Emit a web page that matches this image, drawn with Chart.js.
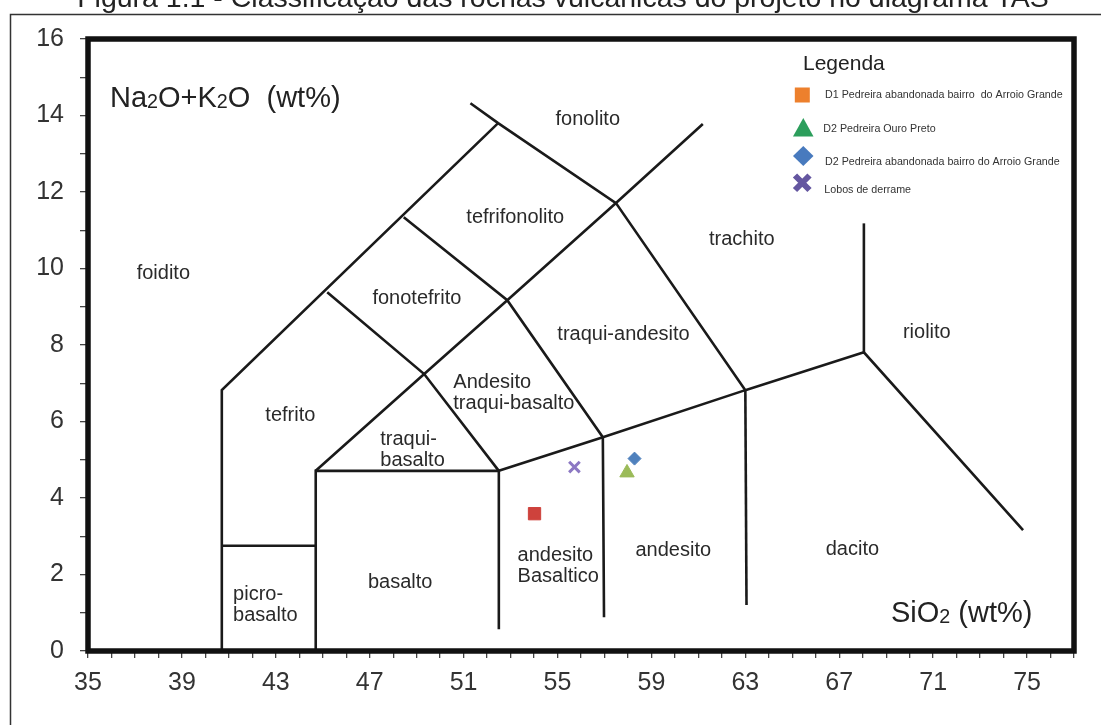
<!DOCTYPE html>
<html><head><meta charset="utf-8">
<script src="https://cdn.jsdelivr.net/npm/chart.js"></script>
<style>html,body{margin:0;padding:0;background:#fff;overflow:hidden}canvas{display:block}</style>
</head><body>
<canvas id="c" width="1101" height="725"></canvas>
<script>
// ---------------- data ----------------
const xTickLabels = [35, 39, 43, 47, 51, 55, 59, 63, 67, 71, 75];
const yTickLabels = [0, 2, 4, 6, 8, 10, 12, 14, 16];

// TAS field boundaries (SiO2, Na2O+K2O)
const lineFoiditeBound      = [[40.7, 0], [40.7, 6.82], [52.47, 13.8]];
const lineUpperBound        = [[51.29, 14.32], [52.47, 13.8], [57.49, 11.71], [63.0, 6.82], [68.05, 7.81], [74.83, 3.16]];
const linePicroTop          = [[40.7, 2.75], [44.7, 2.75]];
const lineBasaltBox         = [[44.7, 0], [44.7, 4.71], [52.5, 4.71], [52.5, 0.57]];
const lineFonotefritoBase   = [[45.19, 9.38], [49.32, 7.24], [52.5, 4.71]];
const lineTrachyRidge       = [[44.7, 4.71], [49.32, 7.24], [52.86, 9.17], [57.49, 11.71], [61.19, 13.78]];
const lineTephriphonoBase   = [[48.45, 11.34], [52.86, 9.17], [56.93, 5.59], [56.98, 0.88]];
const lineAlkalineDivide    = [[52.5, 4.71], [56.93, 5.59], [63.0, 6.82]];
const lineDaciteLeft        = [[63.0, 6.82], [63.05, 1.2]];
const lineRhyoliteLeft      = [[68.05, 7.81], [68.05, 11.18]];
const boundaryLines = [lineFoiditeBound, lineUpperBound, linePicroTop, lineBasaltBox, lineFonotefritoBase,
  lineTrachyRidge, lineTephriphonoBase, lineAlkalineDivide, lineDaciteLeft, lineRhyoliteLeft];

// samples
const sampleD1Arroio   = [[54.02, 3.59]];
const sampleD2Ouro     = [[57.96, 4.66]];
const sampleD2Arroio   = [[58.28, 5.03]];
const sampleLobos      = [[55.72, 4.81]];

const legendNames = [
  'D1 Pedreira abandonada bairro  do Arroio Grande',
  'D2 Pedreira Ouro Preto',
  'D2 Pedreira abandonada bairro do Arroio Grande',
  'Lobos de derrame'
];

// field names and their anchor (SiO2, Na2O+K2O)
const fieldNames  = ['foidito','fonolito','tefrifonolito','trachito','fonotefrito','traqui-andesito','riolito',
  'Andesito','traqui-basalto','tefrito','traqui-','basalto','picro-','basalto','basalto','andesito','Basaltico','andesito','dacito'];
const fieldX      = [38.21, 56.29, 53.2, 62.85, 49.01, 57.81, 70.73, 50.56, 50.56, 43.62, 47.45, 47.45, 41.18, 41.18, 48.30, 53.30, 53.30, 59.93, 67.56];
const fieldY      = [9.87, 13.9, 11.34, 10.76, 9.22, 8.28, 8.34, 7.03, 6.47, 6.17, 5.53, 4.99, 1.48, 0.93, 1.79, 2.50, 1.94, 2.63, 2.65];
const fieldAlign  = ['center','center','center','center','center','center','center','left','left','center','left','left','left','left','center','left','left','center','center'];

const titleText = 'Figura 1.1 - Classificação das rochas vulcânicas do projeto no diagrama TAS';

// ---------------- chart ----------------
const toPts = arr => arr.map(p => ({x: p[0], y: p[1]}));
const FONT = "'Liberation Sans', Arial, sans-serif";

const datasets = boundaryLines.map(l => ({
  type: 'scatter', data: toPts(l), showLine: true, borderColor: '#1a1a1a', borderWidth: 2.6,
  pointRadius: 0, pointHoverRadius: 0, fill: false, tension: 0
}));
datasets.push(
  {type:'scatter', label: legendNames[0], data: toPts(sampleD1Arroio), pointStyle:'rect', pointRadius: 8.7,
   backgroundColor:'rgb(206,66,60)', borderColor:'rgb(206,66,60)', borderWidth:1},
  {type:'scatter', label: legendNames[1], data: toPts(sampleD2Ouro), pointStyle:'triangle', pointRadius: 8.3,
   backgroundColor:'rgb(155,187,89)', borderColor:'rgb(155,187,89)', borderWidth:1},
  {type:'scatter', label: legendNames[2], data: toPts(sampleD2Arroio), pointStyle:'rectRot', pointRadius: 6.5,
   backgroundColor:'rgb(79,129,189)', borderColor:'rgb(79,129,189)', borderWidth:1},
  {type:'scatter', label: legendNames[3], data: toPts(sampleLobos), pointStyle:'crossRot', pointRadius: 7.5,
   backgroundColor:'rgb(140,120,195)', borderColor:'rgb(140,120,195)', borderWidth:3}
);

function drawRich(ctx, parts, x, y, size, color) {
  // parts: [text, isSub]
  ctx.save();
  ctx.fillStyle = color;
  ctx.textBaseline = 'alphabetic';
  ctx.textAlign = 'left';
  let cx = x;
  for (const [t, sub] of parts) {
    ctx.font = (sub ? size * 0.68 : size) + 'px ' + FONT;
    ctx.fillText(t, cx, y + (sub ? 1 : 0));
    cx += ctx.measureText(t).width;
  }
  ctx.restore();
}

const decor = {
  id: 'decor',
  beforeDraw(chart) {
    const ctx = chart.ctx;
    ctx.save();
    ctx.fillStyle = '#fff';
    ctx.fillRect(0, 0, chart.width, chart.height);
    // outer figure frame (left + top)
    ctx.strokeStyle = '#333';
    ctx.lineWidth = 1.5;
    ctx.beginPath();
    ctx.moveTo(10.5, 725); ctx.lineTo(10.5, 14.5); ctx.lineTo(1101, 14.5);
    ctx.stroke();
    // clipped caption
    ctx.fillStyle = '#222';
    ctx.font = '26px ' + FONT;
    const w = ctx.measureText(titleText).width;
    const fs = 26 * 972 / w;
    ctx.font = fs + 'px ' + FONT;
    ctx.textAlign = 'center';
    ctx.textBaseline = 'alphabetic';
    ctx.fillText(titleText, 563, 7);
    ctx.restore();
  },
  afterDraw(chart) {
    const ctx = chart.ctx;
    const a = chart.chartArea;
    const xs = chart.scales.x, ys = chart.scales.y;
    ctx.save();
    // thick plot frame
    ctx.strokeStyle = '#111';
    ctx.lineWidth = 5.5;
    ctx.strokeRect(a.left, a.top, a.right - a.left, a.bottom - a.top);

    // field names
    ctx.fillStyle = '#2a2a2a';
    ctx.font = '20px ' + FONT;
    ctx.textBaseline = 'middle';
    for (let i = 0; i < fieldNames.length; i++) {
      ctx.textAlign = fieldAlign[i];
      ctx.fillText(fieldNames[i], xs.getPixelForValue(fieldX[i]), ys.getPixelForValue(fieldY[i]));
    }

    // axis titles inside plot
    drawRich(ctx, [['Na',0],['2',1],['O+K',0],['2',1],['O  (wt%)',0]], 110, 107, 29, '#222');
    drawRich(ctx, [['SiO',0],['2',1],[' (wt%)',0]], 891, 622, 29, '#222');

    // legend
    ctx.fillStyle = '#222';
    ctx.font = '21px ' + FONT;
    ctx.textAlign = 'left';
    ctx.textBaseline = 'middle';
    ctx.fillText('Legenda', 803, 64);

    // symbols
    ctx.fillStyle = 'rgb(237,128,45)';
    ctx.fillRect(802.3 - 7.5, 95 - 7.5, 15, 15);

    ctx.fillStyle = 'rgb(44,158,92)';
    ctx.beginPath();
    ctx.moveTo(803.3, 118); ctx.lineTo(813.5, 136.5); ctx.lineTo(793, 136.5); ctx.closePath();
    ctx.fill();

    ctx.fillStyle = 'rgb(72,122,190)';
    ctx.beginPath();
    ctx.moveTo(803.3, 146); ctx.lineTo(813.5, 156); ctx.lineTo(803.3, 166); ctx.lineTo(793, 156); ctx.closePath();
    ctx.fill();

    ctx.strokeStyle = 'rgb(100,86,160)';
    ctx.lineWidth = 6;
    ctx.lineCap = 'butt';
    ctx.beginPath();
    ctx.moveTo(795, 175.5); ctx.lineTo(809.5, 190);
    ctx.moveTo(809.5, 175.5); ctx.lineTo(795, 190);
    ctx.stroke();

    ctx.fillStyle = '#333';
    ctx.font = '10.7px ' + FONT;
    ctx.fillText(legendNames[0], 825, 95);
    ctx.fillText(legendNames[1], 823.3, 129.3);
    ctx.fillText(legendNames[2], 825, 161.7);
    ctx.fillText(legendNames[3], 824.3, 190);
    ctx.restore();
  }
};

new Chart(document.getElementById('c'), {
  type: 'scatter',
  data: { datasets },
  plugins: [decor],
  options: {
    responsive: false,
    animation: false,
    devicePixelRatio: 1,
    layout: { padding: { left: 28, right: 27, top: 39, bottom: 24 } },
    plugins: { legend: { display: false }, tooltip: { enabled: false }, title: { display: false } },
    scales: {
      x: {
        type: 'linear', position: 'bottom', min: 35, max: 77,
        border: { display: false },
        grid: { drawOnChartArea: false, drawTicks: true, tickLength: 7, color: '#444', lineWidth: 1.3 },
        ticks: {
          stepSize: 1, autoSkip: false, maxRotation: 0, padding: 10, color: '#333',
          font: { family: FONT, size: 25 },
          callback: v => xTickLabels.includes(v) ? String(v) : ''
        },
        afterFit: s => { s.height = 50; }
      },
      y: {
        type: 'linear', position: 'left', min: 0, max: 16,
        border: { display: false },
        grid: { drawOnChartArea: false, drawTicks: true, tickLength: 8, color: '#444', lineWidth: 1.3 },
        ticks: {
          stepSize: 1, autoSkip: false, padding: 16, color: '#333',
          font: { family: FONT, size: 25 },
          callback: v => yTickLabels.includes(v) ? String(v) : ''
        },
        afterFit: s => { s.width = 60; }
      }
    }
  }
});
</script>
</body></html>
